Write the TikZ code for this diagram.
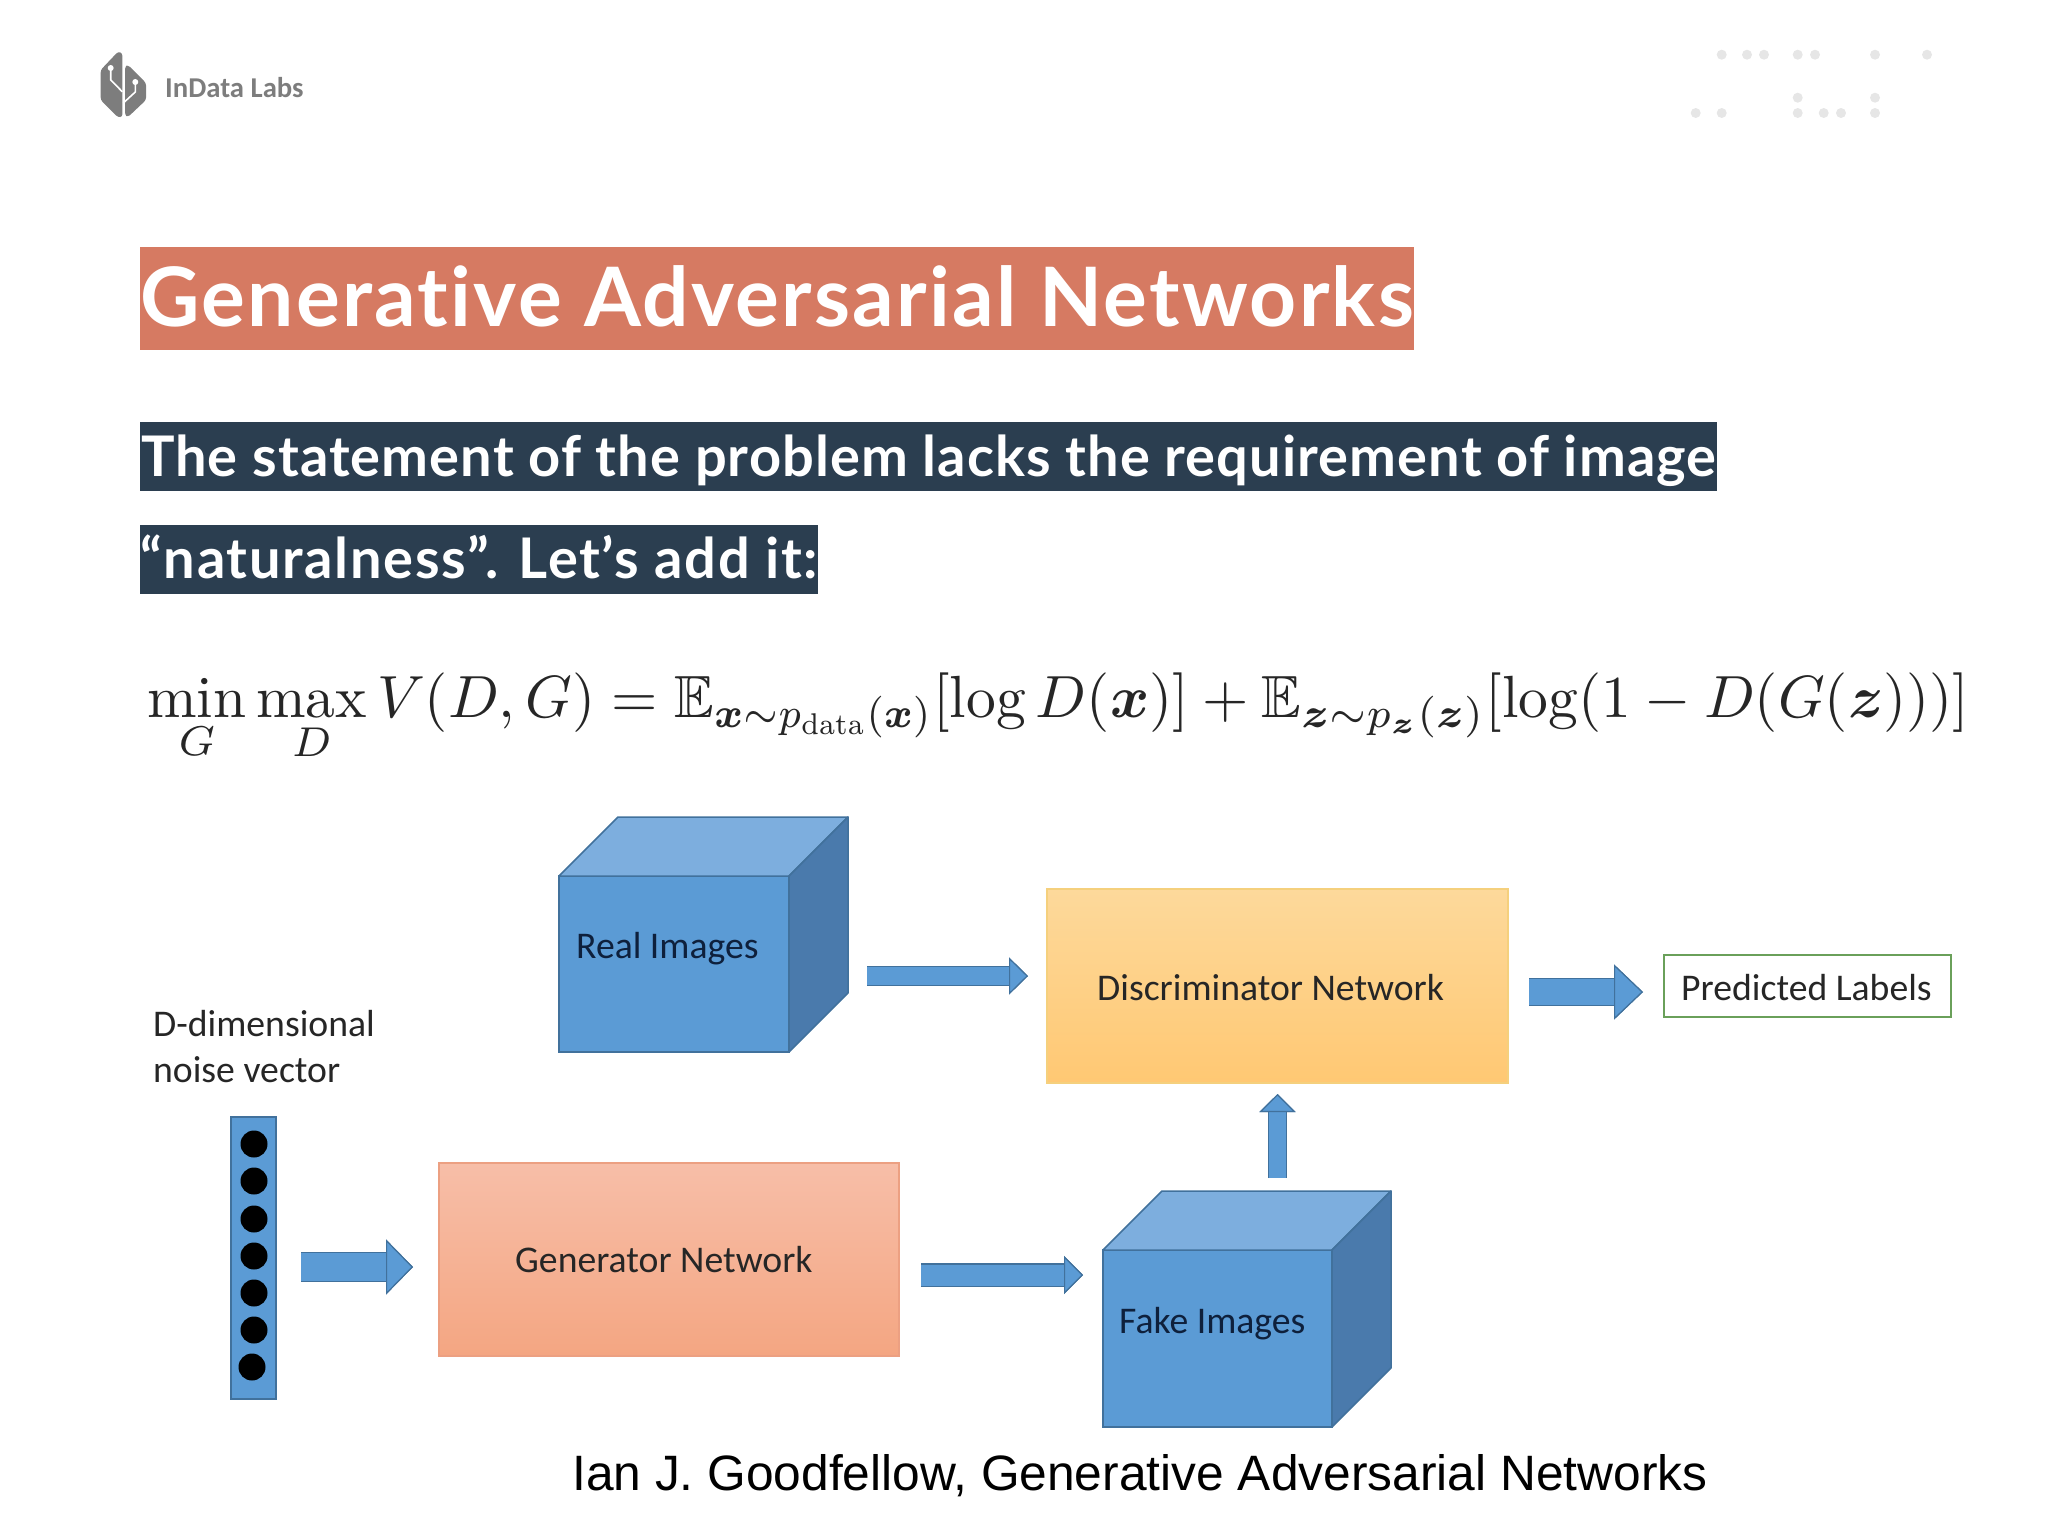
\documentclass[tikz,border=0pt]{standalone}
\usepackage{xcolor}
\usepackage{amsmath,amssymb}
\usepackage{graphicx}
\usepackage{fontspec}
\newfontfamily\slidefont[Ligatures=NoCommon]{Lato}
\newfontfamily\figfont{Carlito}
\newfontfamily\citefont{Liberation Sans}
\definecolor{titlebg}{RGB}{214, 122, 98}
\definecolor{subbg}{RGB}{43, 62, 80}
\definecolor{logogray}{RGB}{125, 125, 125}
\definecolor{dotgray}{RGB}{230, 230, 230}
\definecolor{arrblue}{RGB}{91, 155, 213}
\definecolor{arredge}{RGB}{65, 113, 156}
\definecolor{cubetop}{RGB}{125, 174, 222}
\definecolor{cubeside}{RGB}{74, 122, 172}
\definecolor{labelnavy}{RGB}{14, 32, 60}
\definecolor{disctop}{RGB}{253, 217, 155}
\definecolor{discbot}{RGB}{255, 200, 115}
\definecolor{discedge}{RGB}{245, 208, 125}
\definecolor{gentop}{RGB}{247, 190, 168}
\definecolor{genbot}{RGB}{244, 166, 130}
\definecolor{genedge}{RGB}{236, 160, 130}
\definecolor{prededge}{RGB}{106, 160, 90}
\usetikzlibrary{arrows.meta}

\begin{document}
\begin{tikzpicture}[
        x=1pt, y=-1pt,
        banner/.style={anchor=north west, inner sep=0pt, text=white},
        lbl/.style={anchor=base west, inner sep=0pt, text=black!85, font=\figfont\fontsize{37.7}{38}\selectfont},
        cube/.style={rectangle, anchor=north west, draw=arredge, fill=arrblue, line width=1.5pt, outer sep=0pt},
        netbox/.style={rectangle, anchor=north west, line width=1.2pt, outer sep=0pt},
        blockarr/.style n args={3}{line width=#1, draw=arrblue,
            -{Triangle[length=#3, width=#2, fill=arrblue, color=arredge, line width=1.2pt]},
            preaction={draw=arredge, line width=#1+2.4pt}}
    ]
    \useasboundingbox (0,0) rectangle (2048,1536);
    % logo and dots
    \fill[logogray, rounded corners=2.5pt] (100.7,70) -- (118,51.7) -- (122.3,53) -- (122.3,117) -- (118,117.3) -- (100.7,100) -- cycle;
    \fill[logogray, rounded corners=2.5pt] (125,66.7) -- (128,65) -- (146,83) -- (146,100) -- (128,117) -- (125,115) -- cycle;
    \draw[white, line width=1.6pt] (110.7,68) -- (110.7,80) -- (122.3,91.7);
    \draw[white, line width=1.6pt] (135.3,82) -- (135.3,92) -- (123.3,103);
    \fill[white] (110.7,68) circle (3pt) (135.3,82) circle (3pt);
    \node[lbl, text=logogray, font=\figfont\bfseries\fontsize{28.7}{29}\selectfont] (logo) at (165,98) {InData Labs};
    \foreach \dx/\dy in {1721.7/54.7, 1747/54.7, 1764/54.7, 1797.7/54.7, 1815/54.7, 1875/54.7, 1927/54.7,
                         1797.7/97.7, 1875/97.7,
                         1695.7/113, 1721.7/113, 1797.7/113, 1823.7/113, 1841/113, 1875/113}
        \fill[dotgray] (\dx,\dy) circle (5pt);
    % headings
    \node[banner, fill=titlebg, minimum width=1273pt, text height=79pt, text depth=24pt,
        font=\slidefont\bfseries\fontsize{82}{82}\selectfont\addfontfeature{LetterSpace=2.8}] (title) at (140,247) {Generative Adversarial Networks};
    \node[banner, fill=subbg, minimum width=1577pt, text height=54pt, text depth=15pt,
        font=\slidefont\bfseries\fontsize{56}{56}\selectfont\addfontfeature{LetterSpace=1.9}] (sub1) at (140,422) {The statement of the problem lacks the requirement of image};
    \node[banner, fill=subbg, minimum width=678pt, text height=53pt, text depth=16pt,
        font=\slidefont\bfseries\fontsize{56}{56}\selectfont\addfontfeature{LetterSpace=3}] (sub2) at (140,525) {“naturalness”. Let’s add it:};
    % objective
    \node[anchor=base west, inner sep=0pt, text=black!85] (objective) at (147,717) {\resizebox{1822pt}{!}{$\displaystyle
        \min_G \max_D V(D,G) = \mathbb{E}_{\scalebox{0.94}[1]{$\scriptstyle\boldsymbol{x}\sim p_{\scalebox{0.72}{$\scriptstyle\mathrm{data}$}}(\boldsymbol{x})$}}[\log D(\boldsymbol{x})]
        + \mathbb{E}_{\boldsymbol{z}\sim p_{\boldsymbol{z}}(\boldsymbol{z})}[\log(1-D(G(\boldsymbol{z})))]$}};
    % noise vector
    \node[lbl] (dimlbl) at (153,1036) {D-dimensional};
    \node[lbl] (noiselbl) at (153,1082) {noise vector};
    \node[cube, minimum width=45pt, minimum height=282pt] (noise) at (231,1117) {};
    \foreach \i/\cx/\cy in {1/254/1144, 2/254/1181, 3/254/1219, 4/254/1256, 5/254/1293, 6/254/1330, 7/252/1367}
        \fill[black] (\cx,\cy) circle (13.5pt);
    % networks
    \node[netbox, draw=discedge, top color=disctop, bottom color=discbot,
        minimum width=461pt, minimum height=194pt] (disc) at (1047,889) {};
    \node[netbox, draw=genedge, top color=gentop, bottom color=genbot,
        minimum width=460pt, minimum height=193pt] (gen) at (439,1163) {};
    \node[netbox, draw=prededge, fill=white, line width=2pt,
        minimum width=287pt, minimum height=62pt] (pred) at (1664,955) {};
    \node[lbl] (disclbl) at (1097,1000) {Discriminator Network};
    \node[lbl] (genlbl) at (515,1272) {Generator Network};
    \node[lbl] (predlbl) at (1681,1000) {Predicted Labels};
    % cubes
    \node[cube, minimum width=230pt, minimum height=176pt] (real) at (559,876) {};
    \node[cube, minimum width=229pt, minimum height=177pt] (fake) at (1103,1250) {};
    \foreach \n in {real,fake} {
        \draw[arredge, fill=cubetop, line width=1.5pt, line join=round] (\n.north west) -- ++(59,-59) -- ([shift={(59,-59)}]\n.north east) -- (\n.north east) -- cycle;
        \draw[arredge, fill=cubeside, line width=1.5pt, line join=round] (\n.north east) -- ([shift={(59,-59)}]\n.north east) -- ([shift={(59,-59)}]\n.south east) -- (\n.south east) -- cycle;
    }
    \node[lbl, text=labelnavy] (reallbl) at (576,958.5) {Real Images};
    \node[lbl, text=labelnavy] (fakelbl) at (1119,1333.5) {Fake Images};
    % block arrows
    \draw[blockarr={28pt}{55pt}{27pt}, shorten <=25pt, shorten >=26pt] ([yshift=-9pt]noise.east) -- ([yshift=-7.5pt]gen.west);
    \draw[blockarr={21pt}{38pt}{19pt}, shorten <=22pt, shorten >=20pt] ([yshift=-15.5pt]gen.east) -- ([yshift=63.5pt]fake.west);
    \draw[blockarr={18pt}{37pt}{19pt}, shorten <=78pt, shorten >=19pt] ([yshift=-12pt]real.east) -- ([yshift=10pt]disc.west);
    \draw[blockarr={26pt}{55pt}{29pt}, shorten <=21pt, shorten >=21pt] ([yshift=-6pt]disc.east) -- ([yshift=-6pt]pred.west);
    \draw[blockarr={17pt}{36pt}{18pt}, shorten <=72pt, shorten >=11pt] ([xshift=60pt]fake.north) -- (disc.south);
    % reference
    \node[lbl, text=black, font=\citefont\fontsize{49.7}{50}\selectfont] (cite) at (572,1490) {Ian J. Goodfellow, Generative Adversarial Networks};
\end{tikzpicture}
\end{document}
